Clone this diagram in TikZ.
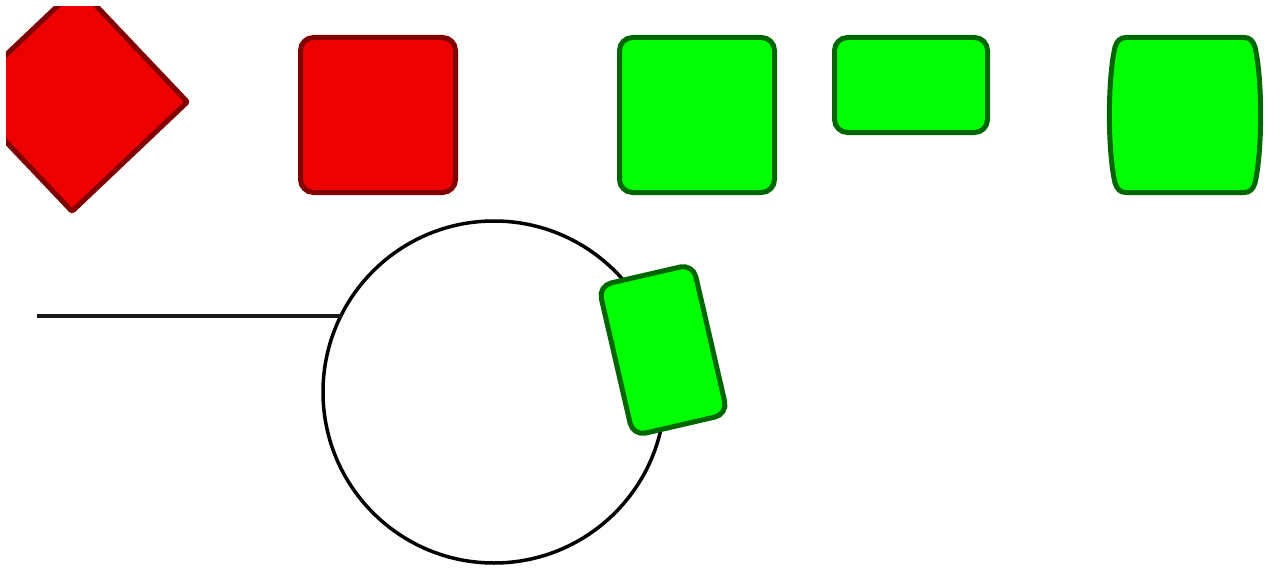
\documentclass[tikz,border=0pt]{standalone}
\begin{document}
\begin{tikzpicture}[x=1pt,y=1pt,
  redbox/.style={draw=red!50!black,fill=red!93!black,line width=5pt,inner sep=0pt,rounded corners=13pt},
  greenbox/.style={draw=green!40!black,fill=green,line width=5pt,inner sep=0pt,rounded corners=13pt},
  ring/.style={circle,draw=black,line width=3.5pt,inner sep=0pt,outer sep=0pt,minimum size=342pt},
  wire/.style={draw=black!90,line width=3.5pt}]
\useasboundingbox (0,0) rectangle (1265,-567);
% clipped rotated red square
\begin{scope}
\clip (6,-7) rectangle (1265,-567);
\node[redbox,rounded corners=2pt,minimum width=159pt,minimum height=159pt,rotate=43.5] (rd) at (75,-99) {};
\end{scope}
\node[redbox,minimum width=155pt,minimum height=155pt] (rs) at (378,-115) {};
\node[greenbox,minimum width=155pt,minimum height=155pt] (gs) at (697,-115) {};
\node[greenbox,minimum width=153pt,minimum height=95pt] (gr) at (911,-85) {};
% barrel
\coordinate (bc) at (1185,-115);
\draw[draw=green!40!black,fill=green,line width=5pt]
  (1126,-37.5) -- (1244,-37.5)
  .. controls (1250,-37.5) and (1253,-41) .. (1255,-47)
  .. controls (1262.5,-80) and (1262.5,-150) .. (1255,-183)
  .. controls (1253,-189) and (1250,-192.5) .. (1244,-192.5)
  -- (1126,-192.5)
  .. controls (1120,-192.5) and (1117,-189) .. (1115,-183)
  .. controls (1107.5,-150) and (1107.5,-80) .. (1115,-47)
  .. controls (1117,-41) and (1120,-37.5) .. (1126,-37.5) -- cycle;
% circle and line
\node[ring] (circ) at (494,-392) {};
\coordinate (L) at (37,-316);
\draw[wire] (L) -- (L -| circ.153.6);
\node[greenbox,minimum width=97pt,minimum height=154pt,rotate=13] (gt) at (663,-350) {};
\end{tikzpicture}
\end{document}
